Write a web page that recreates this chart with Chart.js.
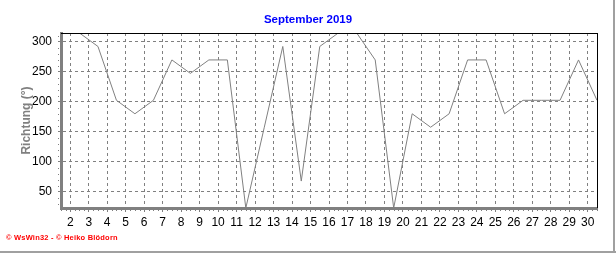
<!DOCTYPE html>
<html>
<head>
<meta charset="utf-8">
<script src="https://cdn.jsdelivr.net/npm/chart.js@4/dist/chart.umd.min.js"></script>
<style>
  html, body { margin: 0; padding: 0; background: #fff; }
  #wrap { position: relative; width: 616px; height: 253px; overflow: hidden; }
  #c { position: absolute; left: 0; top: 0; }
  #footer { position: absolute; left: 6px; top: 233px; font: bold 7.5px "Liberation Sans", Arial, sans-serif; color: #ff0000; white-space: nowrap; letter-spacing: 0.2px; }
  #edgeR { position: absolute; left: 613px; top: 0; width: 2px; height: 253px; background: #a0a0a0; }
  #edgeB { position: absolute; left: 0; top: 251px; width: 616px; height: 2px; background: #a0a0a0; }
</style>
</head>
<body>
<div id="wrap">
  <canvas id="c" width="616" height="253"></canvas>
  <div id="footer">© WsWin32 - © Heiko Blödorn</div>
  <div id="edgeR"></div>
  <div id="edgeB"></div>
</div>
<script>
// Data (daily mean wind direction, plotted at mid-day)
const titleText = 'September 2019';
const yAxisLabel = 'Richtung (°)';
const dayPositions = [1.5, 2.5, 3.5, 4.5, 5.5, 6.5, 7.5, 8.5, 9.5, 10.5,
                      11.5, 12.5, 13.5, 14.5, 15.5, 16.5, 17.5, 18.5, 19.5, 20.5,
                      21.5, 22.5, 23.5, 24.5, 25.5, 26.5, 27.5, 28.5, 29.5, 30.5];
const direction = [315, 315, 292.5, 202.5, 180, 202.5, 270, 247.5, 270, 270,
                   22.5, 157.5, 292.5, 67.5, 292.5, 315, 315, 270, 22.5, 180,
                   157.5, 180, 270, 270, 180, 202.5, 202.5, 202.5, 270, 202.5];
const xTickDays = [2, 3, 4, 5, 6, 7, 8, 9, 10, 11, 12, 13, 14, 15, 16, 17, 18, 19, 20,
                   21, 22, 23, 24, 25, 26, 27, 28, 29, 30];
const yTickValues = [50, 100, 150, 200, 250, 300];

const points = dayPositions.map((d, i) => ({ x: d, y: direction[i] }));

const frameAndMinorTicks = {
  id: 'frameAndMinorTicks',
  afterDraw(chart) {
    const { ctx, chartArea: a, scales: { x, y } } = chart;
    ctx.save();
    ctx.strokeStyle = '#808080';
    ctx.lineWidth = 1;
    ctx.beginPath();
    for (let v = Math.ceil(x.min * 4) / 4; v <= x.max + 1e-9; v += 0.25) {
      if (Math.abs(v - Math.round(v)) < 1e-9) continue;
      const px = Math.round(x.getPixelForValue(v)) + 0.5;
      ctx.moveTo(px, a.bottom + 1);
      ctx.lineTo(px, a.bottom + 3);
    }
    for (let v = Math.ceil(y.min / 10) * 10; v <= y.max; v += 10) {
      if (v % 50 === 0) continue;
      const py = Math.round(y.getPixelForValue(v)) + 0.5;
      ctx.moveTo(a.left - 3, py);
      ctx.lineTo(a.left - 2, py);
    }
    ctx.stroke();
    ctx.strokeStyle = '#000000';
    ctx.beginPath();
    ctx.moveTo(a.left, Math.round(a.top) + 0.5);
    ctx.lineTo(Math.round(a.right) + 1, Math.round(a.top) + 0.5);
    ctx.moveTo(Math.round(a.right) + 0.5, a.top);
    ctx.lineTo(Math.round(a.right) + 0.5, a.bottom);
    ctx.stroke();
    ctx.restore();
  }
};

new Chart(document.getElementById('c'), {
  type: 'line',
  data: {
    datasets: [{
      data: points,
      borderColor: '#808080',
      borderWidth: 1,
      pointRadius: 0,
      tension: 0,
      fill: false
    }]
  },
  options: {
    responsive: false,
    animation: false,
    events: [],
    layout: { padding: { left: 0, right: 0, top: 0, bottom: 0 } },
    plugins: {
      legend: { display: false },
      tooltip: { enabled: false },
      title: {
        display: true,
        text: titleText,
        color: '#0000ff',
        font: { family: 'Liberation Sans, Arial, sans-serif', size: 11.5, weight: 'bold', lineHeight: 1.2 },
        padding: { top: 12.5, bottom: 6.7 }
      }
    },
    scales: {
      x: {
        type: 'linear',
        min: dayPositions[0],
        max: dayPositions[dayPositions.length - 1],
        afterBuildTicks(scale) { scale.ticks = xTickDays.map(v => ({ value: v })); },
        afterFit(scale) { scale.height = 45; },
        ticks: {
          color: '#000000',
          font: { family: 'Liberation Sans, Arial, sans-serif', size: 12 },
          padding: 3,
          maxRotation: 0,
          autoSkip: false
        },
        grid: {
          color: '#808080',
          lineWidth: 1,
          tickLength: 4,
          tickColor: '#808080'
        },
        border: { display: true, color: '#808080', width: 3, dash: [3, 3] }
      },
      y: {
        min: 22.5,
        max: 315,
        afterBuildTicks(scale) { scale.ticks = yTickValues.map(v => ({ value: v })); },
        afterFit(scale) { scale.width = 61; },
        ticks: {
          color: '#000000',
          font: { family: 'Liberation Sans, Arial, sans-serif', size: 12 },
          padding: 6
        },
        title: {
          display: true,
          text: yAxisLabel,
          color: '#808080',
          font: { family: 'Liberation Sans, Arial, sans-serif', size: 12, weight: 'bold', lineHeight: 1.2 },
          padding: { top: 19, bottom: 0 }
        },
        grid: {
          color: '#808080',
          lineWidth: 1,
          tickLength: 3,
          tickColor: '#808080'
        },
        border: { display: true, color: '#808080', width: 3, dash: [3, 3] }
      },
      yRightSpace: {
        position: 'right',
        display: true,
        min: 22.5,
        max: 315,
        afterFit(scale) { scale.width = 19; },
        ticks: { display: false },
        grid: { display: false, drawOnChartArea: false, drawTicks: false },
        border: { display: false }
      }
    }
  },
  plugins: [frameAndMinorTicks]
});
</script>
</body>
</html>
